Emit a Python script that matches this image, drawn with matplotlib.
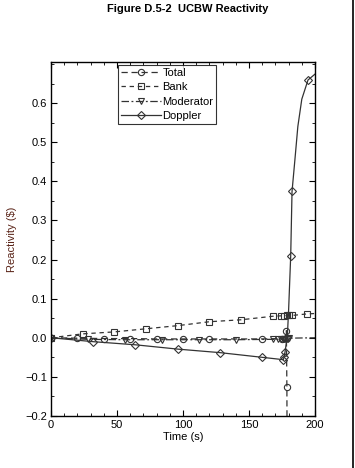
import numpy as np
import matplotlib
matplotlib.use("Agg")
import matplotlib.pyplot as plt
from matplotlib.lines import Line2D
from matplotlib.legend_handler import HandlerLine2D
from matplotlib.ticker import MultipleLocator

plt.rcParams['font.family'] = ['Liberation Sans', 'DejaVu Sans']

# ---- data ----
total_t = [0, 20, 40, 60, 80, 100, 120, 140, 160, 175, 177.5, 178.3, 178.7, 179.2]
total_v = [0.0, -0.001, -0.002, -0.002, -0.003, -0.003, -0.003, -0.003, -0.003, -0.002, 0.005, 0.018, -0.126, -0.60]
total_mark = [0, 1, 2, 3, 4, 5, 6, 8, 9, 11, 12]

bank_t = [0, 24, 48, 72, 96, 120, 144, 168, 174, 176.5, 178.5, 180.5, 182.5, 194, 200]
bank_v = [0.0, 0.010, 0.015, 0.023, 0.031, 0.041, 0.046, 0.055, 0.056, 0.056, 0.057, 0.057, 0.057, 0.061, 0.062]
bank_mark = list(range(14))

mod_t = [0, 28, 56, 84, 112, 140, 168, 172, 174, 175.5, 176.5, 177.5, 178.5, 179.5, 180.5, 200]
mod_v = [0.0, -0.004, -0.005, -0.005, -0.005, -0.005, -0.004, -0.004, -0.004, -0.004, -0.003, -0.003, -0.002, -0.002, -0.001, 0.0]
mod_mark = list(range(15))

dop_t = [0, 32, 64, 96, 128, 160, 176, 176.7, 177.3, 178, 179, 180, 181.6, 182.6, 184.8, 187, 190, 194.7, 200]
dop_v = [0.0, -0.010, -0.018, -0.029, -0.038, -0.050, -0.056, -0.048, -0.036, -0.02, 0.0, 0.07, 0.21, 0.374, 0.456, 0.54, 0.61, 0.659, 0.674]
dop_mark = [0, 1, 2, 3, 4, 5, 6, 7, 8, 12, 13, 17]

xticks = [0, 50, 100, 150, 200]
yticks = [-0.2, -0.1, 0.0, 0.1, 0.2, 0.3, 0.4, 0.5, 0.6]

fig = plt.figure(figsize=(3.55, 4.68), dpi=100)
ax = fig.add_axes([51/355, 1-416/468, (315-51)/355, (416-62)/468])

lc = '#333333'
ms = 4.5
ax.plot(total_t, total_v, color=lc, lw=0.9, ls=(0, (5, 3)), marker='o', ms=ms,
        mfc='none', mec=lc, mew=0.8, markevery=total_mark, label='Total')
ax.plot(bank_t, bank_v, color=lc, lw=0.9, ls=(0, (3.5, 3)), marker='s', ms=ms,
        mfc='none', mec=lc, mew=0.8, markevery=bank_mark, label='Bank')
ax.plot(mod_t, mod_v, color=lc, lw=0.9, ls=(0, (6, 2, 1.5, 2)), marker='v', ms=ms,
        mfc='none', mec=lc, mew=0.8, markevery=mod_mark, label='Moderator')
ax.plot(dop_t, dop_v, color=lc, lw=0.9, ls='-', marker='D', ms=3.8,
        mfc='none', mec=lc, mew=0.8, markevery=dop_mark, label='Doppler')

ax.set_xlim(0, 200)
ax.set_ylim(-0.2, 0.705)
ax.set_xticks(xticks)
ax.set_yticks(yticks)
ax.set_yticklabels([f"{v:.1f}".replace('-', '\u2212') for v in yticks])
ax.xaxis.set_minor_locator(MultipleLocator(10))
ax.yaxis.set_minor_locator(MultipleLocator(0.05))
ax.tick_params(which='both', direction='in', top=True, right=True, labelsize=8, colors='black')
ax.tick_params(which='major', length=4, width=0.8, pad=3)
ax.tick_params(which='minor', length=2, width=0.6)
for s in ax.spines.values():
    s.set_linewidth(1.0)

ax.set_xlabel('Time (s)', fontsize=8, labelpad=1)
ax.set_ylabel('Reactivity ($)', fontsize=8, color='#5a2418', labelpad=6)


class EndMarkerHandler(HandlerLine2D):
    def get_xdata(self, legend, xdescent, ydescent, width, height, fontsize):
        xdata = np.array([-xdescent, -xdescent + width])
        return xdata, np.array([-xdescent + width])


leg = ax.legend(loc='upper left', bbox_to_anchor=((118-51)/264, 1 - 3/354),
                fontsize=8, handlelength=3.6, handletextpad=0.15, labelspacing=0.4,
                borderpad=0.25, borderaxespad=0.0, frameon=True, fancybox=False, edgecolor='black',
                handler_map={Line2D: EndMarkerHandler()})
leg.get_frame().set_linewidth(0.8)

fig.text(188/355, 1 - 9/468, 'Figure D.5-2  UCBW Reactivity', ha='center', va='center',
         fontsize=8, fontweight='bold')
fig.add_artist(Line2D([353/355, 353/355], [0, 1], color='black', lw=1.2, transform=fig.transFigure))

fig.savefig('out.png', dpi=100)
